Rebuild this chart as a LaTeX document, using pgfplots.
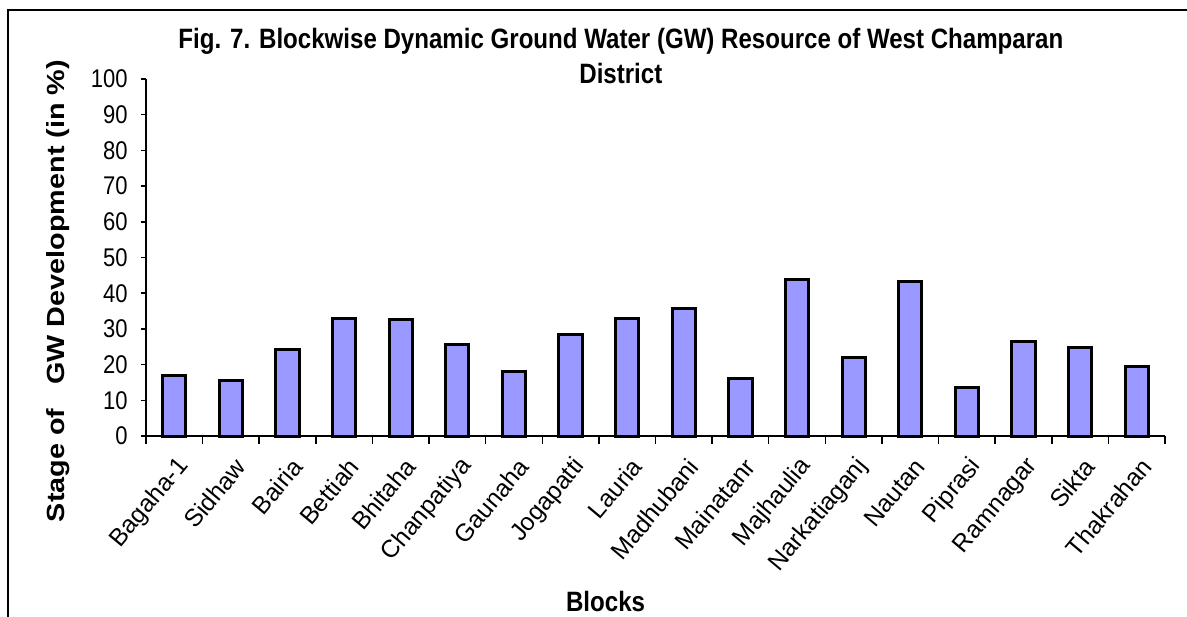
\documentclass[border=0pt]{standalone}
\usepackage{pgfplots}
\pgfplotsset{compat=1.18}
\usepackage{fontspec}
\setmainfont{Liberation Sans}
\newfontfamily\titlefont[FakeStretch=0.86]{Liberation Sans}
\newfontfamily\ylabfont[FakeStretch=1.16]{Liberation Sans}
\newfontfamily\tickfont[FakeStretch=0.86]{Liberation Sans}
\definecolor{barblue}{HTML}{9999FF}
\begin{document}
\begin{tikzpicture}
\path[use as bounding box] (-73pt,-90pt) rectangle (520.5pt,218pt);
\draw[line width=1pt] (-69pt,-100pt) -- (-69pt,212.75pt) -- (600pt,212.75pt);
\begin{axis}[
  at={(0,0)}, anchor=south west,
  scale only axis, width=509.5pt, height=178.5pt,
  xmin=-0.5, xmax=17.5, ymin=0, ymax=100,
  axis x line*=bottom, axis y line*=left,
  axis line style={line width=0.75pt, black},
  ytick={0,10,...,100},
  xtick={0,...,17},
  xticklabels={Bagaha-1,Sidhaw,Bairia,Bettiah,Bhitaha,Chanpatiya,Gaunaha,Jogapatti,Lauria,Madhubani,Mainatanr,Majhaulia,Narkatiaganj,Nautan,Piprasi,Ramnagar,Sikta,Thakrahan},
  minor xtick={-0.5,0.5,...,17.5},
  tick align=outside,
  major tick length=2.5pt,
  minor tick length=4pt,
  major x tick style={draw=none},
  minor x tick style={black, line width=0.75pt},
  major y tick style={black, line width=0.75pt},
  /pgf/number format/assume math mode=true,
  yticklabel style={font=\fontsize{12.8}{14}\tickfont, anchor=east, inner sep=0pt, xshift=-6.5pt},
  xticklabel style={font=\fontsize{12.3}{14}\selectfont, inner sep=0pt, xshift=5pt, yshift=-10.5pt, rotate=50, anchor=east},
  every axis y label/.style={at={(axis description cs:-0.0864,0.406)}, rotate=90, anchor=center, font=\fontsize{12.4}{14}\ylabfont\bfseries},
  ylabel={Stage of \ \ GW Development (in \%)},
  every axis x label/.style={at={(axis description cs:0.451,-0.492)}, anchor=base, font=\fontsize{14}{16}\titlefont\bfseries},
  xlabel={Blocks},
  title={Fig. 7. Blockwise Dynamic Ground Water (GW) Resource of West Champaran\\District},
  title style={at={(axis description cs:0.466,1.110)}, anchor=north, inner sep=0pt, align=center, font=\fontsize{14}{17.5}\titlefont\bfseries},
  ybar, bar width=0.41,
  clip=false,
]
\addplot[fill=barblue, draw=black, line width=1.5pt] coordinates {
(0,17.0) (1,15.6) (2,24.3) (3,32.9) (4,32.5) (5,25.7) (6,18.0) (7,28.4) (8,33.0)
(9,35.8) (10,16.1) (11,43.9) (12,22.1) (13,43.4) (14,13.5) (15,26.6) (16,24.9) (17,19.4)
};
\end{axis}
\end{tikzpicture}
\end{document}
